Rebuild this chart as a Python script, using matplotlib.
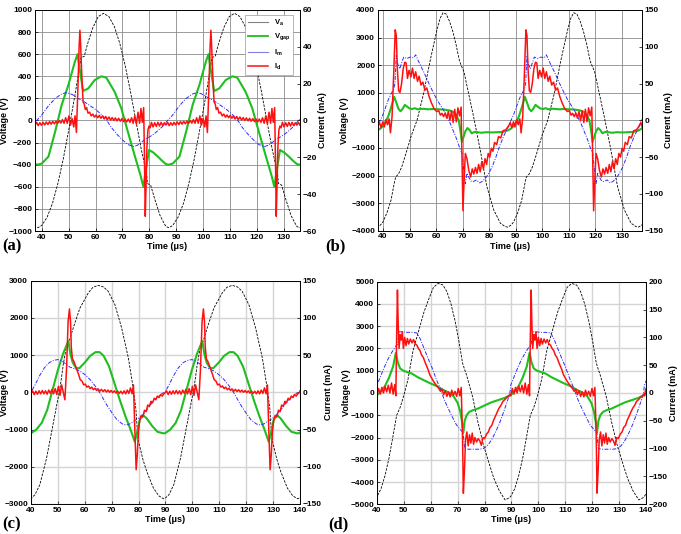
import numpy as np
import matplotlib
matplotlib.use('Agg')
import matplotlib.pyplot as plt
from matplotlib.lines import Line2D

plt.rcParams['font.family'] = ['Liberation Sans', 'DejaVu Sans']
plt.rcParams['font.weight'] = 'bold'
plt.rcParams['axes.labelweight'] = 'bold'

# ---------------- data: one measured cycle per panel (time in us) ----------------
# Panel (a)
A_T0, A_P = 37.5, 48.7
A_VA = [(37.5, -960), (38.6, -970), (40, -950), (42, -875), (44, -750), (46, -570), (48, -350),
        (50, -90), (52, 180), (54, 470), (54.6, 570), (55.8, 580), (57, 690), (59, 840), (61, 940),
        (63, 970), (65, 940), (67, 850), (69, 700), (71, 500), (73, 260), (75, 0), (77, -260),
        (79, -480), (79.3, -570), (80.5, -585), (82, -710), (84, -860), (85.5, -930)]
A_VG = [(37.5, -395), (38.5, -400), (40, -390), (42.5, -327), (45, -100), (47.4, 140), (49.9, 320),
        (52.3, 530), (53.3, 600), (54.2, 450), (55.4, 267), (57.3, 290), (59.7, 366), (62.2, 400),
        (64, 388), (67.1, 260), (69.6, 110), (72, -100), (74.5, -312), (76.7, -493), (77.8, -600),
        (78.8, -430), (79.9, -267), (81.5, -290), (83.2, -327), (85, -370)]
A_IM = [(37.5, -1), (40, 3), (42.5, 8), (45, 12), (47.5, 14.5), (49.3, 15.2), (51.5, 14), (53.5, 12),
        (55.5, 10.5), (58, 8), (60, 6), (62, 3.5), (64, 0.5), (66, -4), (68, -7.5), (70, -10.5),
        (72, -13), (74, -14.2), (75.5, -13.5), (77, -12), (78.5, -10), (80, -9), (82, -7),
        (84, -4.5), (85.5, -2.5)]
A_ID = [(37.5, -2.5), (38.1, -1.0), (38.7, -2.8), (39.3, -1.2), (39.9, -2.6), (40.5, -1.0), (41.1, -2.4),
        (41.7, -0.8), (42.3, -2.2), (42.9, -0.6), (43.5, -2.0), (44.1, -0.5), (44.7, -1.8), (45.3, -0.3),
        (45.9, -1.5), (46.5, 0.0), (47.1, -1.4), (47.7, 0.5), (48.3, -1.5), (48.9, 1.5), (49.5, -1.5),
        (50.1, 2.5), (50.7, -2.5), (51.3, 1.0), (51.9, -3.5), (52.4, 2.5), (52.9, -6.5), (53.4, 15),
        (53.9, 40), (54.2, 49), (54.5, 40), (54.8, 28), (55.1, 18), (55.4, 10), (55.8, 9), (56.2, 6),
        (56.7, 7), (57.2, 4), (57.8, 4.5), (58.4, 2.5), (59.0, 3.5), (59.6, 1.8), (60.2, 3.0), (60.8, 1.5),
        (61.4, 2.8), (62.0, 1.2), (62.6, 2.5), (63.2, 0.8), (63.8, 2.2), (64.4, 0.5), (65.0, 1.9),
        (65.6, 0.2), (66.2, 1.6), (66.8, 0.0), (67.4, 1.4), (68.0, -0.2), (68.6, 1.2), (69.2, -0.4),
        (69.8, 1.0), (70.4, -0.6), (71.0, 0.8), (71.6, -0.8), (72.2, 0.8), (72.8, -1.0), (73.4, 1.5),
        (74.0, -1.5), (74.6, 2.5), (75.2, -2.0), (75.8, 4.5), (76.4, -1.5), (76.9, 6.5), (77.4, -1.0),
        (77.9, 7.0), (78.2, -20), (78.5, -52), (78.8, -35), (79.1, -15), (79.5, -5), (79.9, -3),
        (80.3, -4), (80.8, -1.0), (81.4, -3.5), (82.0, -1.2), (82.6, -3.2), (83.2, -1.0), (83.8, -3.0),
        (84.4, -1.0), (85.0, -2.8), (85.6, -1.2)]

# Panel (b)
B_T0, B_P = 38.1, 49.2
B_VA = [(38.1, -3850), (39, -3800), (40, -3680), (41.5, -3350), (43, -2900), (44.3, -2250),
        (44.8, -2050), (45.8, -1950), (47, -1700), (48.5, -1250), (50.5, -600), (52.8, 0),
        (55.3, 980), (57.8, 2190), (60.3, 3275), (61.5, 3700), (62.6, 3900), (63.8, 3850),
        (65, 3600), (66.2, 3250), (67.5, 2750), (68.8, 2150), (69.5, 1980), (70.5, 1750),
        (72.2, 980), (74.1, 134), (76.6, -1074), (79.1, -2400), (81.7, -3250), (84.2, -3730),
        (86, -3850), (87, -3870)]
B_VG = [(38.1, -350), (39, -300), (40, -200), (41, -50), (42, 150), (43, 450), (44.2, 850), (45, 650),
        (45.8, 420), (46.6, 330), (47.4, 420), (48.2, 560), (49, 500), (50, 430), (51, 410), (52, 440),
        (53, 400), (55, 420), (57, 400), (59, 410), (61, 400), (63, 390), (65, 360), (66.5, 300),
        (67.5, 200), (68.5, 0), (69.2, -400), (69.7, -780), (70.3, -600), (71, -400), (71.8, -280),
        (72.6, -350), (73.4, -470), (74.2, -430), (75, -420), (77, -450), (79, -430), (81, -440),
        (83, -430), (85, -420), (86.5, -380)]
B_IM = [(38.1, -6), (39, 0), (40, 8), (41, 18), (42, 28), (43, 36), (44, 42), (44.5, 50), (45, 88),
        (45.6, 76), (46.3, 70), (47, 78), (47.8, 86), (49, 84), (50.2, 86), (51.5, 85), (52.3, 89),
        (53.4, 80), (55.3, 66), (57.8, 46), (60.3, 28), (62.8, 14), (65.3, -4), (67.9, -27),
        (69.1, -40), (69.8, -45), (70.4, -68), (71, -86), (71.6, -72), (72.4, -78), (73.2, -83),
        (74.1, -83), (75.2, -81), (76.3, -85), (77.4, -83), (78.5, -79), (79.5, -74), (81, -64),
        (82.5, -50), (84, -34), (85.5, -21), (87, -10)]
B_ID = [(38.1, -8), (38.7, -3), (39.3, -10), (39.9, -2), (40.5, -9), (41.1, 1), (41.7, -6), (42.3, 2),
        (42.8, -17), (43.4, 5), (44.0, 60), (44.6, 123), (45.0, 115), (45.4, 70), (45.9, 40),
        (46.4, 38), (47.0, 50), (47.6, 70), (48.2, 79), (48.7, 78), (49.2, 57), (49.8, 68), (50.5, 59),
        (51.1, 71), (51.7, 57), (52.3, 66), (53.0, 53), (53.6, 60), (54.3, 48), (55.0, 52), (55.8, 41),
        (56.5, 44), (57.3, 33), (58.2, 24), (59.2, 16), (60.2, 12), (61.0, 13), (61.6, 7), (62.2, 9.5),
        (62.8, 5), (63.4, 10), (64.0, 3), (64.6, 12), (65.2, 0), (65.8, 13), (66.4, -3), (67.0, 15),
        (67.6, -2), (68.2, 17), (68.8, 6), (69.4, 18), (69.8, -60), (70.1, -123), (70.5, -85),
        (71.0, -45), (71.6, -52), (72.3, -68), (73.0, -77), (73.6, -66), (74.2, -73), (74.8, -64),
        (75.4, -72), (76.0, -60), (76.6, -70), (77.2, -56), (77.8, -66), (78.4, -52), (79.0, -60),
        (79.6, -45), (80.2, -50), (80.8, -38), (81.4, -42), (82.0, -30), (82.8, -33), (83.5, -22),
        (84.3, -24), (85.2, -14), (86.2, -13), (87.0, -9)]

# Panel (c)
C_T0, C_P = 40.0, 49.8
C_VA = [(40, -2850), (41.5, -2750), (43.3, -2480), (45.8, -1765), (47.7, -1050), (49.6, -330),
        (50.8, 117), (52, 743), (53.3, 1280), (54.2, 1370), (55.7, 1730), (58.2, 2266), (61.3, 2670),
        (63, 2820), (65, 2875), (67, 2830), (68.7, 2715), (71.2, 2355), (73.7, 1730), (76.2, 923),
        (78, 117), (79, -450), (79.5, -1000), (80, -1330), (80.6, -1500), (81.6, -1800), (83, -2121),
        (85.5, -2570), (87.5, -2780), (89.3, -2860)]
C_VG = [(40, -1100), (42, -1000), (44, -820), (46, -480), (48, 60), (50, 600), (52, 1050), (53.9, 1380),
        (54.6, 1050), (55.5, 800), (56.8, 650), (58, 650), (60, 800), (62, 980), (64, 1080),
        (65.5, 1080), (67, 980), (69, 700), (71, 250), (73, -200), (75, -620), (77, -1000),
        (78.6, -1330), (79.5, -1050), (80.5, -720), (81.8, -620), (83, -700), (85, -900),
        (87, -1060), (89, -1100)]
C_IM = [(40, 0), (41.5, 10), (43.3, 23), (45, 33), (46.8, 40), (48.5, 43), (50, 44), (51.5, 42),
        (53, 38), (54.4, 34), (56, 32), (58, 29), (60, 24), (62, 17), (64.4, 6), (66, -3), (68, -16),
        (70, -27), (72, -37), (74, -42.5), (75.5, -44), (77, -42), (78.5, -38), (79.5, -36), (81, -32),
        (83, -24), (85, -14), (87, -6), (89, -1)]
C_ID = [(40.0, -1), (40.6, 2), (41.2, -3), (41.8, 1.5), (42.4, -2.5), (43.0, 2), (43.6, -2), (44.2, 2.5),
        (44.8, -2), (45.4, 2), (46.0, -2.5), (46.6, 3), (47.2, -1.5), (47.8, 4), (48.4, -2), (49.0, 5),
        (49.6, -3), (50.2, 8), (50.8, -4), (51.4, 10), (52.0, 0), (52.6, -10), (53.2, 30), (53.8, 95),
        (54.3, 112), (54.7, 95), (55.0, 60), (55.4, 45), (55.9, 42), (56.5, 36), (57.1, 30), (57.7, 24),
        (58.3, 17), (59.0, 15), (59.6, 10), (60.2, 11), (60.8, 7), (61.4, 8.5), (62.0, 5), (62.6, 7),
        (63.2, 3.5), (63.8, 5.5), (64.4, 2.5), (65.0, 4.5), (65.6, 1.5), (66.2, 4), (66.8, 1),
        (67.4, 3.5), (68.0, 0.5), (68.6, 3), (69.2, 0), (69.8, 2.5), (70.4, -0.5), (71.0, 2),
        (71.6, -1), (72.2, 1.5), (72.8, -1.5), (73.4, 1.5), (74.0, -2), (74.6, 2), (75.2, -2),
        (75.8, 3), (76.4, -1.5), (77.0, 6), (77.6, -2), (78.1, 10), (78.6, -50), (79.1, -104),
        (79.5, -85), (79.9, -55), (80.4, -38), (81.0, -31), (81.6, -33), (82.2, -24), (82.8, -26),
        (83.4, -17), (84.0, -19), (84.6, -12), (85.2, -14), (85.8, -8), (86.4, -10), (87.0, -5),
        (87.6, -7), (88.2, -3), (88.8, -5), (89.4, -2)]

# Panel (d)
D_T0, D_P = 40.0, 49.7
D_VA = [(40, -4650), (41.5, -4300), (43, -3700), (44.5, -2900), (46, -1900), (47.3, -1000),
        (48.6, -650), (50, -100), (51.5, 600), (53.4, 1900), (55.5, 2800), (57.5, 3650), (59.5, 4300),
        (61, 4750), (62.7, 4920), (64.5, 4850), (66, 4550), (67.5, 4000), (69, 3250), (70.5, 2300),
        (71.8, 1350), (72.4, 1120), (73.3, 800), (75.5, -150), (77.5, -1300), (79.5, -2300),
        (81.5, -3100), (83.5, -3850), (85.5, -4400), (87.6, -4800), (89, -4720)]
D_VG = [(40, -100), (41.5, 80), (43, 320), (44.5, 700), (46, 1200), (47, 1800), (47.8, 1350),
        (48.6, 1100), (49.8, 1000), (51.5, 930), (53, 870), (55, 720), (57, 600), (59.5, 450),
        (62, 320), (64.5, 150), (67, 0), (68.5, -150), (70, -450), (71, -850), (71.6, -1300),
        (72.1, -1780), (72.6, -1250), (73.3, -1000), (74.3, -850), (75.5, -780), (77.5, -700),
        (80, -560), (82.5, -420), (85, -320), (87.5, -220), (89, -120)]
D_IM = [(40, 14), (41, 26), (42.5, 44), (44, 60), (45.5, 73), (47, 84), (47.6, 88), (48.2, 110),
        (49, 110), (51, 109), (53, 109), (54.8, 108), (56, 98), (57.5, 80), (59, 62), (60.5, 45),
        (62, 25), (63.5, 8), (65, -12), (66.5, -28), (68, -43), (69.5, -57), (71, -66), (72, -71),
        (72.6, -100), (74, -101), (76, -101), (78, -101), (79.5, -100), (81, -95), (82.5, -85),
        (84, -71), (85.5, -55), (87, -35), (88.5, -14), (89.4, 0)]
D_ID = [(40.0, -5), (40.6, 8), (41.2, -2), (41.8, 10), (42.4, 0), (43.0, 12), (43.6, 2), (44.2, 14),
        (44.8, 0), (45.4, 18), (46.0, -2), (46.6, 15), (47.0, -5), (47.3, 100), (47.6, 185),
        (47.9, 120), (48.2, 80), (48.6, 105), (49.0, 95), (49.4, 110), (49.8, 80), (50.3, 100),
        (50.8, 85), (51.3, 98), (51.8, 88), (52.4, 97), (53.0, 90), (53.6, 96), (54.2, 88), (54.8, 86),
        (55.4, 80), (56.0, 76), (56.6, 68), (57.2, 64), (57.8, 56), (58.4, 49), (59.0, 42), (59.6, 33),
        (60.3, 27), (61.0, 21), (61.7, 16), (62.4, 12), (63.0, 8), (63.6, 3), (64.2, 7), (64.8, -3),
        (65.4, 4), (66.0, -6), (66.6, 2), (67.2, -7), (67.8, 5), (68.4, -4), (69.0, 3), (69.6, -6),
        (70.2, 8), (70.8, -5), (71.3, 10), (71.8, -80), (72.1, -180), (72.5, -140), (72.9, -85),
        (73.4, -70), (73.9, -95), (74.4, -75), (74.9, -90), (75.4, -72), (75.9, -92), (76.4, -80),
        (77.0, -88), (77.6, -82), (78.2, -86), (78.8, -94), (79.4, -80), (80.0, -82), (80.7, -74),
        (81.4, -70), (82.0, -62), (82.7, -58), (83.4, -48), (84.0, -42), (84.7, -34), (85.4, -27),
        (86.1, -22), (86.8, -15), (87.5, -12), (88.2, -8), (88.9, -6), (89.5, -3)]

# axis settings
A_XTICKS = list(range(40, 131, 10))
B_XTICKS = list(range(40, 131, 10))
C_XTICKS = list(range(40, 141, 10))
D_XTICKS = list(range(40, 141, 10))

C_VA_COLOR = 'black'
C_VG_COLOR = '#1fbf1f'
C_IM_COLOR = '#2b2bff'
C_ID_COLOR = '#ff1010'


def cycle(pairs, t0, P):
    a = np.array(pairs, float)
    t, v = a[:, 0], a[:, 1]
    keep = (t >= t0) & (t < t0 + P)
    t, v = t[keep], v[keep]
    T = np.concatenate([t + k * P for k in range(-1, 3)])
    V = np.concatenate([v] * 4)
    return T, V


fig = plt.figure(figsize=(6.81, 5.34), dpi=100)


def panel(rect, xlim, xticks, vlim, vstep, ilim, istep, va, vg, im, idd, t0, P, gridc, gridw,
          vlx, ilx, legend=False):
    ax = fig.add_axes(rect)
    ax2 = ax.twinx()
    t, v = cycle(va, t0, P)
    ax.plot(t, v, color=C_VA_COLOR, lw=0.6, dashes=(3, 1.5))
    t, v = cycle(vg, t0, P)
    ax.plot(t, v, color=C_VG_COLOR, lw=1.5)
    t, v = cycle(im, t0, P)
    ax2.plot(t, v, color=C_IM_COLOR, lw=0.7, dashes=(4, 1.5, 1, 1.5))
    t, v = cycle(idd, t0, P)
    ax2.plot(t, v, color=C_ID_COLOR, lw=1.1)
    ax.set_xlim(*xlim)
    ax.set_ylim(*vlim)
    ax2.set_ylim(*ilim)
    ax.set_xticks(xticks)
    ax.set_yticks(np.arange(vlim[0], vlim[1] + 1, vstep))
    ax2.set_yticks(np.arange(ilim[0], ilim[1] + 1, istep))
    ax.grid(True, color=gridc, lw=gridw)
    ax.set_axisbelow(True)
    for a in (ax, ax2):
        a.tick_params(labelsize=6, length=2.5, width=0.5, direction='in', pad=2)
        for s in a.spines.values():
            s.set_linewidth(0.6)
    ax.set_xlabel('Time (μs)', fontsize=6.5, labelpad=1)
    ax.set_ylabel('Voltage (V)', fontsize=6.5)
    ax2.set_ylabel('Current (mA)', fontsize=6.5)
    ax.yaxis.set_label_coords(vlx, 0.5)
    ax2.yaxis.set_label_coords(ilx, 0.5)
    if legend:
        handles = [Line2D([], [], color='#808080', lw=0.8),
                   Line2D([], [], color=C_VG_COLOR, lw=1.3),
                   Line2D([], [], color='#8080e0', lw=0.8),
                   Line2D([], [], color=C_ID_COLOR, lw=1.1)]
        labels = ['V$_\\mathregular{a}$', 'V$_\\mathregular{gap}$', 'I$_\\mathregular{m}$', 'I$_\\mathregular{d}$']
        leg = ax2.legend(handles, labels, loc='upper right', bbox_to_anchor=(0.99, 0.995), fontsize=5.5,
                         frameon=True, fancybox=False, edgecolor='#999999', framealpha=1,
                         handlelength=2.6, labelspacing=0.5, borderpad=0.4)
        leg.get_frame().set_linewidth(0.5)
    return ax, ax2


panel([0.0514, 0.5674, 0.389, 0.4139], (37.5, 136), A_XTICKS, (-1000, 1000), 200, (-60, 60), 20,
      A_VA, A_VG, A_IM, A_ID, A_T0, A_P, '#8a8a8a', 0.6, -0.098, 1.068, legend=True)
panel([0.555, 0.568, 0.3877, 0.4133], (38.1, 137.5), B_XTICKS, (-4000, 4000), 1000, (-150, 150), 50,
      B_VA, B_VG, B_IM, B_ID, B_T0, B_P, '#8a8a8a', 0.6, -0.11, 1.083)
panel([0.0455, 0.0562, 0.395, 0.4182], (40, 140), C_XTICKS, (-3000, 3000), 1000, (-150, 150), 50,
      C_VA, C_VG, C_IM, C_ID, C_T0, C_P, '#d4d4d4', 1.0, -0.082, 1.089)
panel([0.5536, 0.0556, 0.395, 0.4169], (40, 140), D_XTICKS, (-5000, 5000), 1000, (-200, 200), 50,
      D_VA, D_VG, D_IM, D_ID, D_T0, D_P, '#d4d4d4', 1.0, -0.097, 1.085)

for x, y, s in [(0.004, 0.539, '(a)'), (0.478, 0.539, '(b)'), (0.004, 0.018, '(c)'), (0.482, 0.018, '(d)')]:
    fig.text(x, y, s, fontfamily='Liberation Serif', fontweight='bold', fontsize=12, va='center')

fig.savefig('out.png', dpi=100)
